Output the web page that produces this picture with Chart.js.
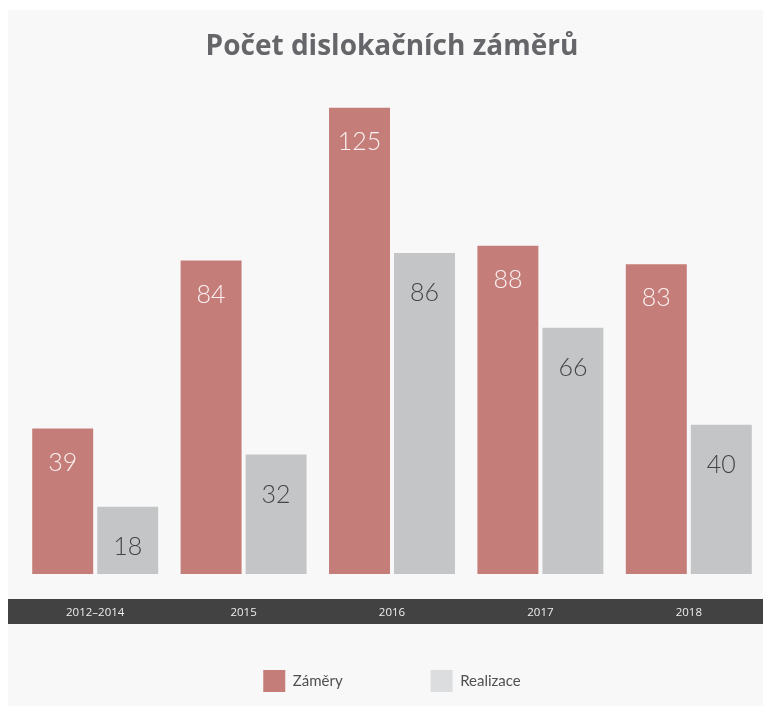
<!DOCTYPE html>
<html>
<head>
<meta charset="utf-8">
<script src="https://cdn.jsdelivr.net/npm/chart.js@4"></script>
<style>
  html, body { margin: 0; padding: 0; background: #fff; }
  #panel { position: absolute; left: 8px; top: 10px; width: 755px; height: 696px; background: #f8f8f8; }
</style>
</head>
<body>
<div id="panel"><canvas id="chart"></canvas></div>
<script>
const categories = ['2012–2014', '2015', '2016', '2017', '2018'];
const seriesNames = ['Záměry', 'Realizace'];
const zamery = [39, 84, 125, 88, 83];
const realizace = [18, 32, 86, 66, 40];

const barColors = ['#c47d79', '#c4c5c7'];
const legendColors = ['#c47d79', '#dcdddf'];
const labelColors = ['#fbf1f0', '#444444'];
const labelDrop = [34, 40];

// value labels inside the bars
const valueLabels = {
  id: 'valueLabels',
  afterDatasetsDraw(chart) {
    const ctx = chart.ctx;
    ctx.save();
    ctx.font = '300 25px Lato, "Open Sans", sans-serif';
    ctx.textAlign = 'center';
    ctx.textBaseline = 'middle';
    chart.data.datasets.forEach((ds, i) => {
      chart.getDatasetMeta(i).data.forEach((bar, j) => {
        ctx.fillStyle = labelColors[i];
        ctx.fillText(ds.data[j], bar.x, bar.y + labelDrop[i]);
      });
    });
    ctx.restore();
  }
};

// dark band behind the category labels
const axisBand = {
  id: 'axisBand',
  beforeDraw(chart) {
    const { ctx, chartArea } = chart;
    ctx.save();
    ctx.fillStyle = '#424242';
    ctx.fillRect(0, chartArea.bottom + 25, chart.width, 25);
    ctx.restore();
  }
};

new Chart(document.getElementById('chart'), {
  type: 'bar',
  data: {
    labels: categories,
    datasets: [
      { label: seriesNames[0], data: zamery, backgroundColor: barColors[0] },
      { label: seriesNames[1], data: realizace, backgroundColor: barColors[1] }
    ]
  },
  options: {
    responsive: true,
    maintainAspectRatio: false,
    animation: false,
    events: [],
    categoryPercentage: 0.876,
    barPercentage: 0.938,
    layout: { padding: { left: 13, right: 0, top: 0, bottom: 4 } },
    plugins: {
      title: {
        display: true,
        text: 'Počet dislokačních záměrů',
        color: '#66666a',
        font: { family: '"Open Sans", sans-serif', size: 28, weight: 'bold' },
        padding: { top: 20, bottom: 44 }
      },
      legend: {
        position: 'bottom',
        labels: {
          boxWidth: 22,
          boxHeight: 22,
          padding: 88,
          color: '#505050',
          font: { family: 'Lato, "Open Sans", sans-serif', size: 15 },
          generateLabels(chart) {
            return Chart.defaults.plugins.legend.labels.generateLabels(chart).map((l, i) => {
              l.fillStyle = legendColors[i];
              l.strokeStyle = 'rgba(0,0,0,0)';
              l.lineWidth = 0;
              return l;
            });
          }
        }
      },
      tooltip: { enabled: false }
    },
    scales: {
      x: {
        grid: { display: false, drawTicks: false },
        border: { display: false },
        // mirrored so the labels are not clipped to the thin axis box
        ticks: { color: '#eeeeee', mirror: true, padding: -46, font: { family: '"Open Sans", sans-serif', size: 11.5 } },
        afterFit(scale) { scale.height = 8; }
      },
      y: { display: false, min: 0, max: 125 }
    }
  },
  plugins: [axisBand, valueLabels]
});
</script>
</body>
</html>
